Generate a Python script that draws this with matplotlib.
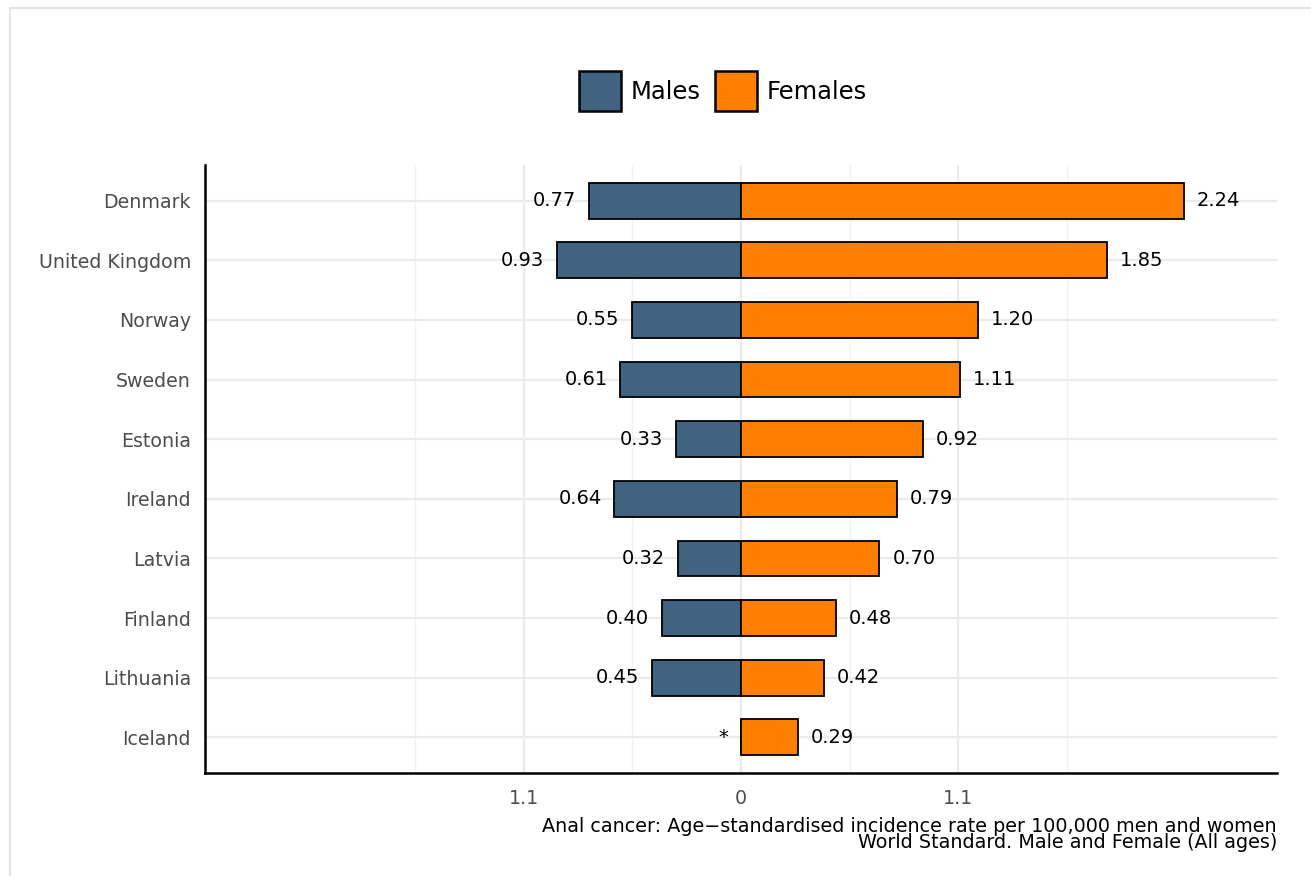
import matplotlib
matplotlib.use("Agg")
import matplotlib.pyplot as plt
from matplotlib.patches import Rectangle, Patch
import numpy as np

plt.rcParams["font.family"] = ["DejaVu Sans"]

countries = ["Denmark", "United Kingdom", "Norway", "Sweden", "Estonia",
             "Ireland", "Latvia", "Finland", "Lithuania", "Iceland"]
males = [0.77, 0.93, 0.55, 0.61, 0.33, 0.64, 0.32, 0.40, 0.45, 0.0]
male_labels = ["0.77", "0.93", "0.55", "0.61", "0.33", "0.64", "0.32", "0.40", "0.45", "*"]
females = [2.24, 1.85, 1.20, 1.11, 0.92, 0.79, 0.70, 0.48, 0.42, 0.29]
female_labels = ["2.24", "1.85", "1.20", "1.11", "0.92", "0.79", "0.70", "0.48", "0.42", "0.29"]
major_ticks = [-1.1, 0, 1.1]
major_tick_labels = ["1.1", "0", "1.1"]
minor_ticks = [-1.65, -0.55, 0.55, 1.65]

male_color = "#3F6380"
female_color = "#FF7F00"

fig = plt.figure(figsize=(13.11, 8.76), dpi=100)
# panel border
fig.patches.append(Rectangle((10 / 1311, -0.05), 1.1, 1 - 8 / 876 + 0.05,
                             transform=fig.transFigure, fill=False,
                             edgecolor="#E5E5E5", linewidth=1.5))

ax = fig.add_axes([205 / 1311, 1 - 773 / 876, (1277 - 205) / 1311, (773 - 165) / 876])

n = len(countries)
y = np.arange(n)[::-1]

xmax = 2.711
ax.set_xlim(-xmax, xmax)
ax.set_ylim(-0.6, n - 1 + 0.6)

# grid
for t in minor_ticks:
    ax.axvline(t, color="#F2F2F2", linewidth=1.0, zorder=0)
for t in major_ticks:
    ax.axvline(t, color="#EBEBEB", linewidth=1.6, zorder=0)
for yy in y:
    ax.axhline(yy, color="#EBEBEB", linewidth=1.6, zorder=0)

bh = 0.6
ax.barh(y, [-m for m in males], height=bh, color=male_color, edgecolor="black",
        linewidth=1.3, zorder=2)
ax.barh(y, females, height=bh, color=female_color, edgecolor="black",
        linewidth=1.3, zorder=3)

off = 0.065
for yy, m, lab in zip(y, males, male_labels):
    ax.text(-m - off, yy, lab, ha="right", va="center", fontsize=14, color="black")
for yy, f, lab in zip(y, females, female_labels):
    ax.text(f + off, yy, lab, ha="left", va="center", fontsize=14, color="black")

ax.set_yticks(y)
ax.set_yticklabels(countries, fontsize=13.7, color="#4D4D4D")
ax.set_xticks(major_ticks)
ax.set_xticklabels(major_tick_labels, fontsize=13.7, color="#4D4D4D")
ax.tick_params(axis="y", length=0, pad=10)
ax.tick_params(axis="x", length=0, pad=11.5)

for s in ["top", "right"]:
    ax.spines[s].set_visible(False)
for s in ["left", "bottom"]:
    ax.spines[s].set_linewidth(1.8)
    ax.spines[s].set_color("black")

handles = [Patch(facecolor=male_color, edgecolor="black", linewidth=1.8, label="Males"),
           Patch(facecolor=female_color, edgecolor="black", linewidth=1.8, label="Females")]
fig.legend(handles=handles, loc="center", bbox_to_anchor=(723 / 1311, 1 - 91 / 876),
           ncol=2, frameon=False, fontsize=17.5, handlelength=1.73, handleheight=2.15,
           handletextpad=0.4, columnspacing=0.6)

fig.text(1277 / 1311, 1 - 826 / 876,
         "Anal cancer: Age\u2212standardised incidence rate per 100,000 men and women",
         ha="right", va="center", fontsize=13.8)
fig.text(1277 / 1311, 1 - 843 / 876,
         "World Standard. Male and Female (All ages)",
         ha="right", va="center", fontsize=13.8)

fig.savefig("out.png", dpi=100)
